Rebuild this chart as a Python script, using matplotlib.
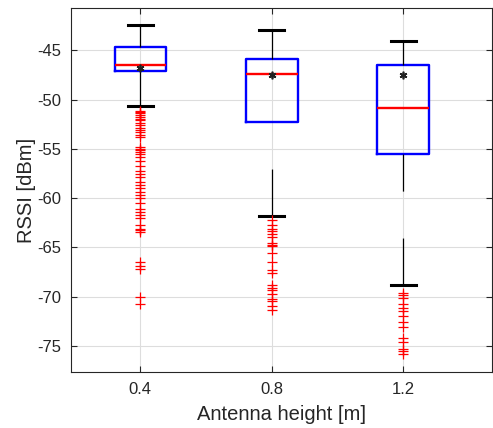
import numpy as np
import matplotlib
matplotlib.use("Agg")
import matplotlib.pyplot as plt

plt.rcParams['font.family'] = ['Liberation Sans', 'DejaVu Sans']
plt.rcParams['axes.unicode_minus'] = False
plt.rcParams['lines.scale_dashes'] = False

# ===== data =====
heights = [0.4, 0.8, 1.2]
tick_labels = ['0.4', '0.8', '1.2']
whis_hi = [-42.43, -42.9, -44.0]
q3 = [-44.67, -45.85, -46.45]
median = [-46.45, -47.43, -50.8]
mean = [-46.8, -47.47, -47.5]
q1 = [-47.13, -52.27, -55.48]
whis_lo = [-50.68, -61.8, -68.83]

fliers_04 = [-51.1, -51.3, -51.4, -51.6, -51.8, -52.0, -52.1, -52.4, -52.6, -52.9,
             -53.1, -53.3, -53.6, -53.8, -54.8, -55.0, -55.1, -55.3, -55.5, -55.8,
             -56.2, -56.7, -57.2, -57.5, -57.9, -58.4, -58.7, -59.0, -59.4, -59.7,
             -60.0, -60.5, -61.1, -61.4, -61.7, -62.0, -62.7, -63.1, -63.2, -63.4,
             -66.5, -66.9, -67.2, -70.0, -70.8]
fliers_08 = [-62.2, -62.7, -63.1, -63.3, -63.6, -63.9, -64.6, -64.8, -64.9, -65.6,
             -66.5, -67.3, -67.6, -68.8, -69.1, -69.3, -69.7, -70.2, -70.5, -71.0, -71.4]
fliers_12 = [-69.6, -69.8, -70.1, -70.8, -71.2, -71.5, -72.0, -72.6, -73.1, -74.2,
             -74.6, -75.3, -75.5, -75.8]
fliers = [fliers_04, fliers_08, fliers_12]

stats = []
for i in range(len(heights)):
    stats.append(dict(med=median[i], q1=q1[i], q3=q3[i], whislo=whis_lo[i],
                      whishi=whis_hi[i], mean=mean[i], fliers=fliers[i]))

fig = plt.figure(figsize=(4.93, 4.28), dpi=100)
ax = fig.add_axes([0.1434, 0.130, 0.998 - 0.1434, 0.981 - 0.130])

bp = ax.bxp(stats, positions=heights, widths=0.157, capwidths=0.076,
            showmeans=True, manage_ticks=False,
            boxprops=dict(color='#0000ff', linewidth=1.7),
            medianprops=dict(color='#ff0000', linewidth=1.7),
            whiskerprops=dict(color='black', linewidth=0.9),
            capprops=dict(color='black', linewidth=2.2),
            meanprops=dict(marker=(6, 2, 0), markeredgecolor='#222222',
                           markerfacecolor='#222222', markersize=5.5, markeredgewidth=1.2),
            flierprops=dict(marker='+', markeredgecolor='#ff0000', markersize=6.5,
                            markeredgewidth=0.9, linestyle='none'))

# whiskers dashed, pattern starting at the cap
for w in bp['whiskers']:
    w.set_ydata(w.get_ydata()[::-1])
    w.set_linestyle((0, (33.8, 33.8)))

ax.set_xlim(0.188, 1.47)
ax.set_ylim(-77.7, -40.7)
ax.set_xticks(heights)
ax.set_xticklabels(tick_labels)
ax.set_yticks([-75, -70, -65, -60, -55, -50, -45])

ax.grid(True, color='#dddddd', linewidth=0.8)
ax.set_axisbelow(True)
for s in ax.spines.values():
    s.set_color('#262626')
    s.set_linewidth(0.8)
ax.tick_params(direction='in', length=4, width=0.8, colors='#262626',
               labelsize=12, top=True, right=True, pad=7)

ax.set_xlabel('Antenna height [m]', fontsize=14.5, color='#262626', labelpad=6)
ax.set_ylabel('RSSI [dBm]', fontsize=14.5, color='#262626', labelpad=1)

fig.savefig('out.png', dpi=100)
